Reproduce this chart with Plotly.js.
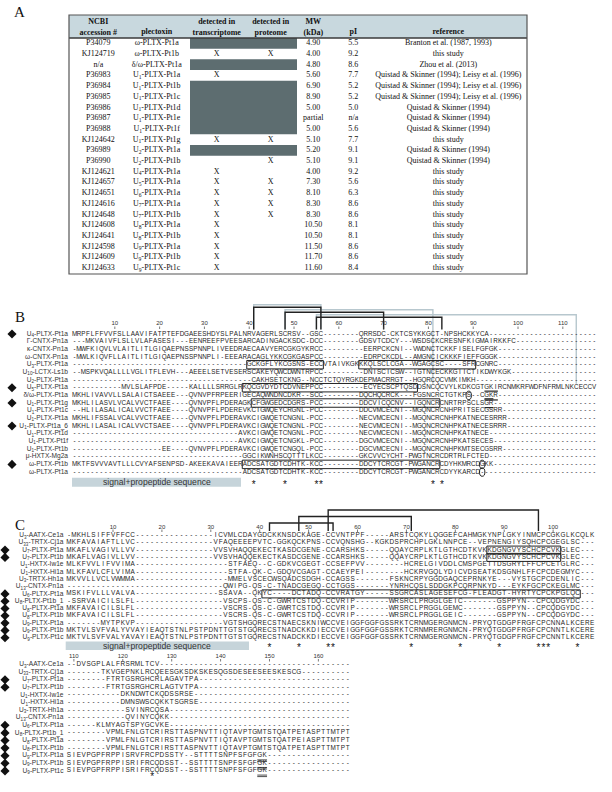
<!DOCTYPE html>
<html><head><meta charset="utf-8">
<script src="https://cdn.plot.ly/plotly-3.0.1.min.js"></script>
<style>html,body{margin:0;padding:0;background:#fff;} #fig{opacity:0.999;}</style>
</head><body>
<div id="fig" style="width:612px;height:792px;"></div>
<script>
const D = n => '-'.repeat(n);

// ================= Panel A data =================
const accession = ['P34079','KJ124719','n/a','P36983','P36984','P36985','P36986','P36987','P36988','KJ124642','P36989','P36990','KJ124621','KJ124657','KJ124651','KJ124616','KJ124648','KJ124608','KJ124641','KJ124598','KJ124609','KJ124633'];
const plectoxin = ['ω-PLTX-Pt1a','ω-PLTX-Pt1b','δ/ω-PLTX-Pt1a','U<sub>1</sub>-PLTX-Pt1a','U<sub>1</sub>-PLTX-Pt1b','U<sub>1</sub>-PLTX-Pt1c','U<sub>1</sub>-PLTX-Pt1d','U<sub>1</sub>-PLTX-Pt1e','U<sub>1</sub>-PLTX-Pt1f','U<sub>1</sub>-PLTX-Pt1g','U<sub>2</sub>-PLTX-Pt1a','U<sub>2</sub>-PLTX-Pt1b','U<sub>4</sub>-PLTX-Pt1a','U<sub>5</sub>-PLTX-Pt1a','U<sub>6</sub>-PLTX-Pt1a','U<sub>7</sub>-PLTX-Pt1a','U<sub>7</sub>-PLTX-Pt1b','U<sub>8</sub>-PLTX-Pt1a','U<sub>8</sub>-PLTX-Pt1b','U<sub>9</sub>-PLTX-Pt1a','U<sub>9</sub>-PLTX-Pt1b','U<sub>9</sub>-PLTX-Pt1c'];
const transcriptome = ['','X','','X','','','','','','X','','','X','X','X','X','X','X','X','X','X','X'];
const proteome      = ['','X','','','','','','','','X','','X','','X','X','X','X','','','','',''];
const notApplicable = [1,0,1,0,1,1,1,1,1,0,1,0,0,0,0,0,0,0,0,0,0,0];
const mw = ['4.90','4.00','4.80','5.60','6.90','8.90','5.00','partial','5.00','5.10','5.20','5.10','4.00','7.30','8.10','8.30','8.30','10.50','10.50','11.50','11.70','11.60'];
const pI = ['5.5','9.2','8.6','7.7','5.2','5.2','5.0','n/a','5.6','7.7','9.1','9.1','9.2','5.6','6.3','8.6','8.6','8.1','8.1','8.6','8.6','8.4'];
const QL = 'Quistad & Skinner (1994); Leisy et al. (1996)', QS = 'Quistad & Skinner (1994)', TS = 'this study';
const reference = ['Branton et al. (1987, 1993)',TS,'Zhou et al. (2013)',QL,QL,QL,QS,QS,QS,TS,QS,QS,TS,TS,TS,TS,TS,TS,TS,TS,TS,TS];
const headers = ['NCBI<br>accession #','plectoxin','detected in<br>transcriptome','detected in<br>proteome','MW<br>(kDa)','pI','reference'];

// ================= Panel B data =================
const namesB = ['U<sub>4</sub>-PLTX-Pt1a','Γ-CNTX-Pn1a','κ-CNTX-Pn1a','ω-CNTX-Pn1a','U<sub>3</sub>-PLTX-Pt1a','U<sub>10</sub>-LCTX-Ls1b','U<sub>2</sub>-PLTX-Pt1a','U<sub>5</sub>-PLTX-Pt1a','δ/ω-PLTX-Pt1a','U<sub>1</sub>-PLTX-Pt1g','U<sub>1</sub>-PLTX-Pt1c','U<sub>1</sub>-PLTX-Pt1a','U<sub>1</sub>-PLTX-Pt1a_6','U<sub>1</sub>-PLTX-Pt1d','U<sub>1</sub>-PLTX-Pt1f','U<sub>1</sub>-PLTX-Pt1b','μ-HXTX-Mg2a','ω-PLTX-Pt1b','ω-PLTX-Pt1a'];
const markB = [1,0,0,0,0,0,0,1,0,1,0,0,1,0,0,0,0,1,0];
const seqB = [
 'MRPFLFFVVFSLLAAVIFATPTEFDGAEESHDYSLPALNRVAGERLSCRSV'+D(2)+'GSC'+D(8)+'QRRSDC-CKTCSYKKGCT-NPSHCKKYCA'+D(24),
 D(3)+'MKVAIVFLSLLVLAFASESI'+D(3)+'EENREEFPVEESARCADINGACKSDC-DCC'+D(8)+'GDSVTCDCY'+D(3)+'WSDSCKCRESNFKIGMAIRKKFC'+D(18),
 '-MWFKIQVLVLAITLITLGIQAEPNSSPNNPLIVEEDRAECAAVYERCGKGYKRCC'+D(9)+'EERPCKCNI'+D(2)+'VWDNCTCKKFISELFGFGK'+D(22),
 '-MWLKIQVFLLAITLITLGIQAEPNSSPNNPLI-EEEARACAGLYKKCGKGASPCC'+D(9)+'EDRPCKCDL'+D(2)+'AMGNCICKKKFIEFFGGGK'+D(22),
 D(39)+'GCKGFLYKCGSNS-ECCVTAIVKGKKKQLSCLCGA'+D(2)+'WGAGCSC'+D(4)+'SFRCGNRC'+D(22),
 D(2)+'MSPKVQALLLLVGLITFLEVH'+D(3)+'AEEELSETVESERSCAKEYQWCDWNTRPCC'+D(9)+'DNISCICSW'+D(2)+'IGTNCECKKGIICTIKDWYKGK'+D(19),
 D(40)+'CAKHSETCKNG'+D(2)+'NCCTCTQYRGKDEPMACRRGT'+D(2)+'HGQRCQCVMKIMKH'+D(27),
 D(11)+'MVLSLAFPDE'+D(5)+'KALLLLSRRGLRKQCGVDYDTCDVNEPPCC'+D(9)+'ECYECSCPTQSDDSNCQCVYLKDKCGTGKIRCNMKRFWDFNFRMLNKCECCV',
 'MKHLIVAVVLLSALAICTSAEEE'+D(3)+'QVNVPFRPEERIGECAQWNDNCDKR'+D(2)+'SCC'+D(8)+'DQCHQCRCK'+D(3)+'FGSNCRCTGTKPS'+D(2)+'CGKR'+D(22),
 'MKHLILASVLVCALVVCTFAEE'+D(4)+'QVNVPFLPDERAGKCFGWGEDCDGRS-PCC'+D(8)+'DDCVICQCNV'+D(2)+'IGQNCRCNRTRPSCLSGR'+D(23),
 '--HLILASALICALVVCTFAEE'+D(4)+'QVNVPFLPDEREVKCIGWQEYCRGNL-PCC'+D(8)+'DDCVMCECNI'+D(2)+'MGQNCRCNHPRITSECGSRR'+D(21),
 'MKHLIFSSALVCALVVCTFAEE'+D(4)+'QVNVPFLPDERAVKCIGWQETCNGNL-PCC'+D(8)+'NECVMCECNI'+D(2)+'MGQNCRCNHPKATNECESRRR'+D(20),
 'MKHLILASALICALVVCTSAEE'+D(4)+'QVNVPFLPDERAVKCIGWQETCNGNL-PCC'+D(8)+'NECVMCECNI'+D(2)+'MGQNCRCNHPKATNECESRRR'+D(20),
 D(37)+'AVKCIGWQETCNGNL-PCC'+D(8)+'NECVMCECNI'+D(2)+'MGQNCRCNHPKATNECE'+D(24),
 D(37)+'AVKCIGWQETCNGKL-PCC'+D(8)+'DGCVMCECNI'+D(2)+'MGQNCRCNHPKATSECES'+D(23),
 D(20)+'EE'+D(4)+'QVNVPFLPDERAVKCIGWQETCNGQL-PCC'+D(8)+'DGCVMCECNI'+D(2)+'MGQNCRCNHPKMTSECGSRR'+D(21),
 D(38)+'GGCIKWNHSCQTTTLKCC'+D(8)+'GKCVVCYCHT-PWGTNCRCDRTRLFCTED'+D(24),
 'MKTFSVVVAVTLLLCVYAFSENPSD-AKEEKAVAIEERADCSATGDTCDHTK-KCC'+D(8)+'DDCYTCRCGT-PWGANCRCDYHKMRCDGKK'+D(23),
 D(38)+'ADCSATGDTCDHTK-KCC'+D(8)+'DDCYTCRCGT-PWGANCRCDYYKARCD'+D(26)
];
const rulerB = [10,20,30,40,50,60,70,80,90,100,110];
const starsB = [41,48,55,56,81,83];
const bondsB = [[41,56],[48,70],[55,83]];
const bondsB_U6 = [[41,56],[48,81],[55,113]];
const boxesB = [[4,40,56],[4,65,90],[7,39,77],[9,41,82],[17,39,82]];
const circlesB = [[8,89],[17,92],[18,92]];
const dblLinesB = [[8,93,95],[9,93,94]];

// ================= Panel C data =================
const namesC = ['U<sub>3</sub>-AATX-Ce1a','U<sub>33</sub>-TRTX-Cj1a','U<sub>7</sub>-PLTX-Pt1a','U<sub>7</sub>-PLTX-Pt1b','U<sub>1</sub>-HXTX-Iw1e','U<sub>1</sub>-HXTX-Hi1a','U<sub>3</sub>-TRTX-Hh1a','U<sub>13</sub>-CNTX-Pn1a','U<sub>6</sub>-PLTX-Pt1a','U<sub>8</sub>-PLTX-Pt1b_1','U<sub>8</sub>-PLTX-Pt1a','U<sub>8</sub>-PLTX-Pt1b','U<sub>9</sub>-PLTX-Pt1a','U<sub>9</sub>-PLTX-Pt1b','U<sub>9</sub>-PLTX-Pt1c'];
const markC = [0,0,1,1,0,0,0,0,1,1,1,1,1,1,1];
const seqC1 = [
 '-MKHLSIFFVFFCC'+D(16)+'ICVMLCDAYGDCKKNSDCKAGE-CCVNTPPF'+D(5)+'ARSTCQKYLQGGEFCAHMGKYNPLGKYINMCPCGKGLKCQLK',
 'MKFAVAIAFTLLVC'+D(16)+'VFAQEEEEPVTC-GGKQCKPNS-CCVQNSHG'+D(2)+'KGKDSPRCHPLGKLNNPCE'+D(2)+'VEPNENGIYSQHCPCGEGLSC'+D(3),
 'MKAFLVAGIVLLVV'+D(16)+'VVSVHAQQEKECTKASDCGENE-CCARSHKS'+D(5)+'QQAYCRPLKTLGTHCDTKVKKDGNGVYSCHCPCVKGLEC'+D(3),
 'MKAFLVAGIVLLVV'+D(16)+'VVSVHAQQEKECTKASDCGENE-CCARSHKS'+D(5)+'QQAYCRPLKTLGTHCDTKVKKDGNGVYSCHCPCVKGLEC'+D(3),
 'MLKFVVLIFVVIMA'+D(19)+'STFAEQ--C-GDKVCGEGT-CCSEFPVV'+D(8)+'HCRELGIVDDLCMSPGETTDSGRYLFFCPCETGLRC'+D(3),
 'MLKFAVLCFLVIMA'+D(19)+'STFA-QK-C-GDQVCGAGT-CCAEYPEI'+D(8)+'HCKRVGQLYDICVDSEATKDSGNHLFFCPCDEGMYC'+D(3),
 'MKVVLLVCLVWMMA'+D(19)+'MMELVSCECWSQADCSDGH-CCAGSS'+D(7)+'FSKNCRPYGGDGAQCEPRNKYE'+D(3)+'VYSTGCPCDENLIC'+D(3),
 D(32)+'QWIPG-QS-C-TNADCGEGQ-CCTGGS'+D(7)+'YNRHCQSLSDDGKPCQRPNKYD'+D(3)+'EYKFGCPCKEGLMC'+D(3),
 'MSKIFVLLLVALVA'+D(17)+'SSAVA--QKYC----DCTADQ-CCVRATGY'+D(5)+'SSGRCASLAGESEFCG-FLEADGT-HYRTYCPCKPGLQC'+D(3),
 '-SSRVAICILSLFL'+D(18)+'VSCPS-QS-C-GWRTCSTDQ-CCVRIP'+D(7)+'WRSRCLPRGGLGEIC'+D(7)+'GSPPYN--CPCQDGYDC'+D(3),
 'MKFAVAICILSLFL'+D(18)+'VSCRS-QS-C-GWRTCSTDQ-CCVRIP'+D(7)+'WRSRCLPRGGLGEMC'+D(7)+'GSPPYN--CPCQDGYDC'+D(3),
 'MKFAVAICILSLFL'+D(18)+'VSCRS-QS-C-GWRTCSTDQ-CCVRIP'+D(7)+'WRSRCLPRGGLGEIC'+D(7)+'GSPPYN--CPCQDGYDC'+D(3),
 '-------MYTPKVP'+D(18)+'VGTSHGQRECSTNAECSKNIWCCVEIGGFGGFGSSRKTCRNMGERGNMCN-PRYQTGDGPFRGFCPCNNALKCERE',
 'MKTVLSVFVALYVVAYIEAQTSTNLPSTPDNTTGTSTGQRECSTNADCKKDIECCVEIGGFGGFGSSRKTCRNMRERGNMCN-PRYQTGDGPFRGFCPCNNTLKCERE',
 'MKTVLSVFVALYAVAYIEAQTSTNLPSTPDNTTGTSTGQRECSTNADCKKDIECCVEIGGFGGFGSSRKTCRNMGERGNMCN-PRYQTGDGPFRGFCPCNNTLKCERE'
];
const seqC2 = [
 '--DVSGPLALFRSRMLTCV'+D(39),
 D(7)+'TKVGEPNKLRCQEESGKSDKSKESQGSDESEESEESKESCG'+D(10),
 D(8)+'FTRTGSRGHCRLAGAVTPA'+D(31),
 D(8)+'FTRTGSRGHCRLAGTVTPA'+D(31),
 D(11)+'DKNDWTCKQDSSRSE'+D(32),
 D(11)+'DMNSWSCQKKTSGRSE'+D(31),
 D(12)+'SVINRCQSA'+D(37),
 D(12)+'QVINYCQKK'+D(37),
 D(6)+'KLMYAGTSPYGCVKE'+D(37),
 D(8)+'VPMLFNLGTCRIRSTTASPNVTTIQTAVPTGMTSTQATPETASPTTMTPT',
 D(8)+'VPMLFNLGTCRIRSTTASPNVTTIQTAVPTGMTSTQATPEIASPTTMTPT',
 D(8)+'VPMLFNLGTCRIRSTTASPNVTTIQTAVPTGMTSTQATPETASPTTMTPT',
 'SIEVPGPFRPPISRVFRCPDSSTY--STTTTSNPFSFGFGK'+D(17),
 'SIEVPGPFRPPISRIFRCQDSST--SSTTTTSNPFSFGFGK'+D(17),
 'SIEVPGPFRPPISRIFRCQDSST--SSTTTTSNPFSFGFGK'+D(17)
];
const rulerC1 = [10,20,30,40,50,60,70,80,90,100];
const rulerC2 = [110,120,130,140,150,160];
const starsC1 = [42,48,54,55,71,81,89,97,98,99,105];
const starsC2 = [126];
const bondsC = [[42,55],[48,71],[54,97]];
const boxesC = [[2,87,101],[3,87,101],[8,41,105]];
const underlineC2 = [[12,148,149],[13,148,149],[14,148,149]];

// ================= layout geometry (pixels) =================
const W = 612, H = 792;
const GT  = {row0:43.3, dy:10.7};
const GB  = {x1:74.5, dx:4.48, start:1,   row0:334,   dy:7.67};
const GC1 = {x1:69,   dx:4.89, start:1,   row0:535.5, dy:7.3};
const GC2 = {x1:69,   dx:4.89, start:109, row0:664.5, dy:7.6};
const xr = g => [g.start - g.x1/g.dx, g.start + (W-g.x1)/g.dx];
const yr = g => [(H-g.row0)/g.dy, -g.row0/g.dy];
const cx = (g,px) => g.start + (px-g.x1)/g.dx;
const ry = (g,py) => (py-g.row0)/g.dy;

const traces = [], shapes = [], ann = [];
const SEQFONT = 'Liberation Sans, Arial, sans-serif';
const SERIF = 'Liberation Serif, Times New Roman, serif';

// ---------- Panel A ----------
const colX = [98.3,156.7,216.7,270.7,313.3,353.3,448.3];
const tableLeft = 69, tableRight = 527, tableTop = 15, headBottom = 38, tableBottom = 274;
shapes.push({type:'rect',xref:'x',yref:'y',x0:tableLeft,x1:tableRight,y0:ry(GT,tableTop),y1:ry(GT,headBottom),fillcolor:'#c8d8de',line:{width:0},layer:'below'});
let i0 = null;
notApplicable.forEach((v,i)=>{
  if(v && i0===null) i0=i;
  if(i0!==null && (!v || i===notApplicable.length-1)){
    const i1 = v ? i : i-1;
    shapes.push({type:'rect',xref:'x',yref:'y',x0:190,x1:297,y0:i0-0.5,y1:i1+0.5,fillcolor:'#5d6d70',line:{width:0},layer:'below'});
    i0=null;
  }
});
shapes.push({type:'line',xref:'x',yref:'y',x0:tableLeft,x1:tableRight,y0:ry(GT,headBottom),y1:ry(GT,headBottom),line:{color:'#3a3a3a',width:1.6}});
shapes.push({type:'rect',xref:'x',yref:'y',x0:tableLeft,x1:tableRight,y0:ry(GT,tableTop),y1:ry(GT,tableBottom),line:{color:'#555',width:1.2}});
{
  const x=[],y=[],t=[];
  accession.forEach((a,i)=>{
    [a,plectoxin[i],transcriptome[i],proteome[i],mw[i],pI[i],reference[i]].forEach((v,j)=>{ if(v){x.push(colX[j]);y.push(i);t.push(v);} });
  });
  traces.push({type:'scatter',mode:'text',x,y,text:t,xaxis:'x',yaxis:'y',textfont:{family:SERIF,size:8,color:'#111'},hoverinfo:'skip',showlegend:false,cliponaxis:false});
  const hy = headers.map(h => h.includes('<br>') ? ry(GT,27.6) : ry(GT,32.3));
  traces.push({type:'scatter',mode:'text',x:colX,y:hy,text:headers.map(h=>'<b>'+h+'</b>'),xaxis:'x',yaxis:'y',textfont:{family:SERIF,size:8,color:'#111'},hoverinfo:'skip',showlegend:false,cliponaxis:false});
}

// ---------- alignment helpers ----------
function alignment(seqs, g, xa, ya, fsize){
  const x=[],y=[],t=[];
  seqs.forEach((s,r)=>{ for(let k=0;k<s.length;k++){ x.push(g.start+k); y.push(r); t.push(s[k]); } });
  traces.push({type:'scatter',mode:'text',x,y,text:t,xaxis:xa,yaxis:ya,textfont:{family:SEQFONT,size:fsize,color:'#222'},hoverinfo:'skip',showlegend:false,cliponaxis:false});
}
function names(list, marks, g, xa, ya, nameRightPx, diamondPx){
  traces.push({type:'scatter',mode:'text',x:list.map(()=>cx(g,nameRightPx)),y:list.map((_,i)=>i),text:list,textposition:'middle left',xaxis:xa,yaxis:ya,textfont:{family:SEQFONT,size:6.6,color:'#333'},hoverinfo:'skip',showlegend:false,cliponaxis:false});
  const dy=[]; marks.forEach((m,i)=>{ if(m) dy.push(i); });
  traces.push({type:'scatter',mode:'markers',x:dy.map(()=>cx(g,diamondPx)),y:dy,marker:{symbol:'diamond',size:7,color:'#111'},xaxis:xa,yaxis:ya,hoverinfo:'skip',showlegend:false,cliponaxis:false});
}
function ruler(vals, g, xa, ya, labelPy, tickTop, tickBot){
  traces.push({type:'scatter',mode:'text',x:vals,y:vals.map(()=>ry(g,labelPy)),text:vals.map(String),xaxis:xa,yaxis:ya,textfont:{family:SEQFONT,size:6,color:'#333'},hoverinfo:'skip',showlegend:false,cliponaxis:false});
  const x=[],y=[]; vals.forEach(v=>{x.push(v,v,null);y.push(ry(g,tickTop),ry(g,tickBot),null);});
  traces.push({type:'scatter',mode:'lines',x,y,line:{color:'#444',width:0.7},xaxis:xa,yaxis:ya,hoverinfo:'skip',showlegend:false});
}
function stars(vals, g, xa, ya, py){
  traces.push({type:'scatter',mode:'text',x:vals,y:vals.map(()=>ry(g,py)),text:vals.map(()=>'*'),xaxis:xa,yaxis:ya,textfont:{family:SEQFONT,size:10,color:'#111'},hoverinfo:'skip',showlegend:false,cliponaxis:false});
}
function brackets(pairs, g, xa, ya, tops, bots, color, width){
  const x=[],y=[];
  pairs.forEach((p,i)=>{ x.push(p[0],p[0],p[1],p[1],null); y.push(bots[i][0],ry(g,tops[i]),ry(g,tops[i]),bots[i][1],null); });
  traces.push({type:'scatter',mode:'lines',x,y,line:{color,width},xaxis:xa,yaxis:ya,hoverinfo:'skip',showlegend:false});
}
function boxes(list, xa, ya){
  list.forEach(b=>shapes.push({type:'rect',xref:xa,yref:ya,x0:b[1]-0.55,x1:b[2]+0.55,y0:b[0]-0.55,y1:b[0]+0.55,line:{color:'#222',width:1}}));
}
function signalBar(g, xa, ya, px0, px1, py0, py1){
  shapes.push({type:'rect',xref:xa,yref:ya,x0:cx(g,px0),x1:cx(g,px1),y0:ry(g,py0),y1:ry(g,py1),fillcolor:'#c6d4da',line:{width:0},layer:'below'});
  ann.push({xref:xa,yref:ya,x:cx(g,(px0+px1)/2),y:ry(g,(py0+py1)/2),text:'signal+propeptide sequence',showarrow:false,font:{family:SEQFONT,size:8.6,color:'#333'}});
}

// ---------- Panel B ----------
const rulerBotB = ry(GB,329.5);
brackets(bondsB_U6, GB, 'x2','y2', [304.8,309.8,314.8], [[rulerBotB,rulerBotB],[rulerBotB,6.5],[rulerBotB,6.5]], '#b7c7ce', 1.4);
brackets(bondsB, GB, 'x2','y2', [307.3,312.3,317.3], bondsB.map(()=>[rulerBotB,rulerBotB]), '#222', 1.4);
ruler(rulerB, GB, 'x2','y2', 323.8, 326.5, 329);
alignment(seqB, GB, 'x2','y2', 6.3);
names(namesB, markB, GB, 'x2','y2', 68, 12);
boxes(boxesB,'x2','y2');
circlesB.forEach(c=>shapes.push({type:'circle',xref:'x2',yref:'y2',x0:c[1]-0.6,x1:c[1]+0.6,y0:c[0]-0.55,y1:c[0]+0.55,line:{color:'#222',width:1}}));
dblLinesB.forEach(d=>{[-0.55,0.6].forEach(o=>shapes.push({type:'line',xref:'x2',yref:'y2',x0:d[1]-0.5,x1:d[2]+0.5,y0:d[0]+o,y1:d[0]+o,line:{color:'#222',width:1.2}}));});
signalBar(GB,'x2','y2',72,241,477.7,486.7);
stars(starsB, GB, 'x2','y2', 485);

// ---------- Panel C ----------
brackets(bondsC, GC1, 'x3','y3', [523,516.5,510], bondsC.map(()=>[ry(GC1,531),ry(GC1,531)]), '#222', 1.4);
ruler(rulerC1, GC1, 'x3','y3', 527.3, 529.5, 532);
alignment(seqC1, GC1, 'x3','y3', 6.4);
names(namesC, markC, GC1, 'x3','y3', 63.5, 5);
boxes(boxesC,'x3','y3');
signalBar(GC1,'x3','y3',65.7,249,641.5,650);
stars(starsC1, GC1, 'x3','y3', 648.5);

ruler(rulerC2, GC2, 'x4','y4', 656.7, 659, 661.5);
alignment(seqC2, GC2, 'x4','y4', 6.4);
names(namesC, markC, GC2, 'x4','y4', 63.5, 5);
underlineC2.forEach(u=>{[0.55,0.75].forEach(o=>shapes.push({type:'line',xref:'x4',yref:'y4',x0:u[1]-0.5,x1:u[2]+0.5,y0:u[0]+o,y1:u[0]+o,line:{color:'#222',width:0.8}}));});
stars(starsC2, GC2, 'x4','y4', 777);

// ---------- panel letters ----------
[['A',12,12],['B',13,317],['C',13,525]].forEach(l=>ann.push({xref:'paper',yref:'paper',x:l[1]/W,y:1-l[2]/H,xanchor:'left',yanchor:'middle',text:l[0],showarrow:false,font:{family:SERIF,size:15,color:'#111'}}));

const ax = (range, anchor) => ({domain:[0,1], range, anchor, visible:false, fixedrange:true, showgrid:false, zeroline:false});
const layout = {
  width:W, height:H, margin:{l:0,r:0,t:0,b:0}, paper_bgcolor:'#fff', plot_bgcolor:'rgba(0,0,0,0)', showlegend:false,
  xaxis: ax([0,W],'y'),   yaxis: ax([(H-GT.row0)/GT.dy, -GT.row0/GT.dy],'x'),
  xaxis2: ax(xr(GB),'y2'), yaxis2: ax(yr(GB),'x2'),
  xaxis3: ax(xr(GC1),'y3'), yaxis3: ax(yr(GC1),'x3'),
  xaxis4: ax(xr(GC2),'y4'), yaxis4: ax(yr(GC2),'x4'),
  shapes, annotations: ann
};
Plotly.newPlot('fig', traces, layout, {displayModeBar:false, staticPlot:true});
</script>
</body></html>
